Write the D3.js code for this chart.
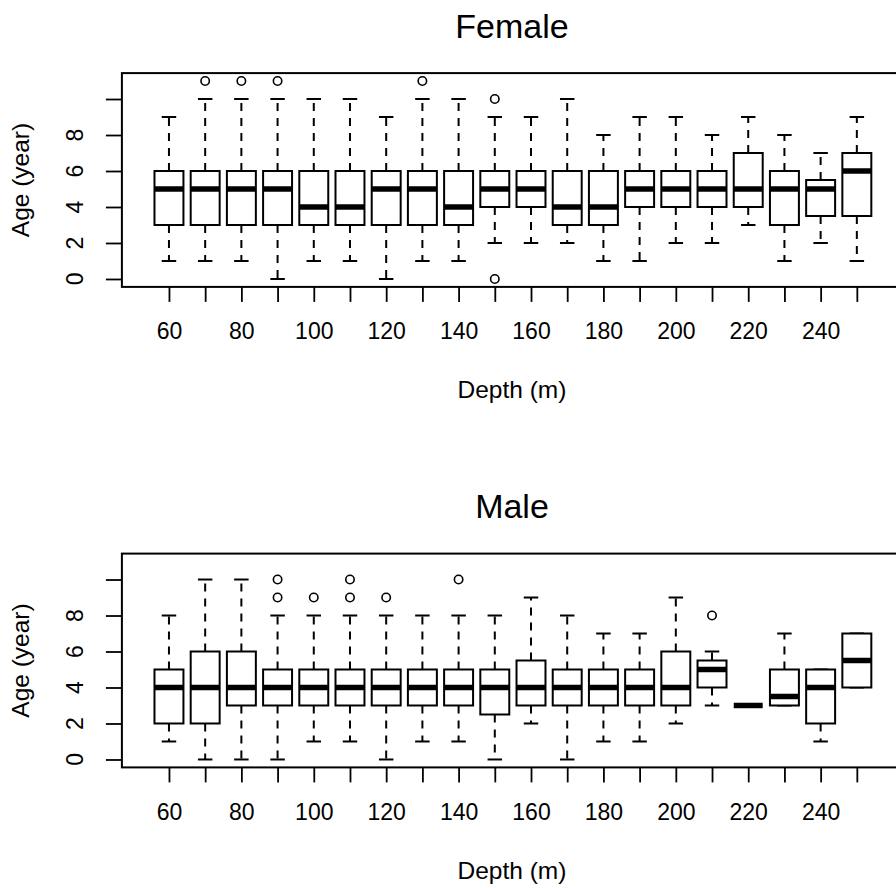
<!DOCTYPE html>
<html>
<head>
<meta charset="utf-8">
<script src="https://cdn.jsdelivr.net/npm/d3@7/dist/d3.min.js"></script>
<style>
  html, body { margin: 0; padding: 0; background: #fff; }
  svg { display: block; }
  text { font-family: "Liberation Sans", Arial, sans-serif; fill: #000; }
</style>
</head>
<body>
<script>
// ---------- data ----------
const depths = [60,70,80,90,100,110,120,130,140,150,160,170,180,190,200,210,220,230,240,250];
const xTickLabels = [60,80,100,120,140,160,180,200,220,240];
const yTicks = [0,2,4,6,8,10];
const yTickLabels = [0,2,4,6,8];

const femaleLow  = [1,1,1,0,1,1,0,1,1,2,2,2,1,1,2,2,3,1,2,1];
const femaleQ1   = [3,3,3,3,3,3,3,3,3,4,4,3,3,4,4,4,4,3,3.5,3.5];
const femaleMed  = [5,5,5,5,4,4,5,5,4,5,5,4,4,5,5,5,5,5,5,6];
const femaleQ3   = [6,6,6,6,6,6,6,6,6,6,6,6,6,6,6,6,7,6,5.5,7];
const femaleHigh = [9,10,10,10,10,10,9,10,10,9,9,10,8,9,9,8,9,8,7,9];
const femaleOut  = [[],[11],[11],[11],[],[],[],[11],[],[10,0],[],[],[],[],[],[],[],[],[],[]];

const maleLow  = [1,0,0,0,1,1,0,1,1,0,2,0,1,1,2,3,3,3,1,4];
const maleQ1   = [2,2,3,3,3,3,3,3,3,2.5,3,3,3,3,3,4,3,3,2,4];
const maleMed  = [4,4,4,4,4,4,4,4,4,4,4,4,4,4,4,5,3,3.5,4,5.5];
const maleQ3   = [5,6,6,5,5,5,5,5,5,5,5.5,5,5,5,6,5.5,3,5,5,7];
const maleHigh = [8,10,10,8,8,8,8,8,8,8,9,8,7,7,9,6,3,7,5,7];
const maleOut  = [[],[],[],[9,10],[9],[9,10],[9],[],[10],[],[],[],[],[],[],[8],[],[],[],[]];

// ---------- layout ----------
const W = 896, H = 888;
const svg = d3.select("body").append("svg").attr("width", W).attr("height", H);

const panels = [
  {title: "Female", off: 0,     low: femaleLow, q1: femaleQ1, med: femaleMed, q3: femaleQ3, high: femaleHigh, out: femaleOut},
  {title: "Male",   off: 480.5, low: maleLow,   q1: maleQ1,   med: maleMed,   q3: maleQ3,   high: maleHigh,   out: maleOut}
];

const x = d3.scaleLinear().domain([-0.3, 21.3]).range([121.9, 903.9]);
const step = x(1) - x(0);
const bw = 0.8 * step;
const sw = 0.5 * bw;

panels.forEach(p => {
  const g = svg.append("g");
  const y = d3.scaleLinear().domain([-0.44, 11.44]).range([286.9 + p.off, 73.1 + p.off]);
  const top = y(11.44), bot = y(-0.44);
  const rows = depths.map((d, i) => ({i: i + 1, d, low: p.low[i], q1: p.q1[i], med: p.med[i], q3: p.q3[i], high: p.high[i], out: p.out[i]}));

  // title
  g.append("text").attr("x", 512).attr("y", 37.7 + p.off)
    .attr("text-anchor", "middle").attr("font-size", 34).text(p.title);

  // boxes
  const b = g.selectAll("g.box").data(rows).join("g").attr("class", "box");
  const dash = "8,7";
  b.append("line").attr("x1", r => x(r.i)).attr("x2", r => x(r.i))
    .attr("y1", r => y(r.q3)).attr("y2", r => y(r.high))
    .attr("stroke", "#000").attr("stroke-width", 2).attr("stroke-dasharray", dash);
  b.append("line").attr("x1", r => x(r.i)).attr("x2", r => x(r.i))
    .attr("y1", r => y(r.q1)).attr("y2", r => y(r.low))
    .attr("stroke", "#000").attr("stroke-width", 2).attr("stroke-dasharray", dash);
  b.append("line").attr("x1", r => x(r.i) - sw / 2).attr("x2", r => x(r.i) + sw / 2)
    .attr("y1", r => y(r.high)).attr("y2", r => y(r.high))
    .attr("stroke", "#000").attr("stroke-width", 2);
  b.append("line").attr("x1", r => x(r.i) - sw / 2).attr("x2", r => x(r.i) + sw / 2)
    .attr("y1", r => y(r.low)).attr("y2", r => y(r.low))
    .attr("stroke", "#000").attr("stroke-width", 2);
  b.append("rect").attr("x", r => x(r.i) - bw / 2).attr("width", bw)
    .attr("y", r => y(r.q3)).attr("height", r => y(r.q1) - y(r.q3))
    .attr("fill", "#fff").attr("stroke", "#000").attr("stroke-width", 2);
  b.append("line").attr("x1", r => x(r.i) - bw / 2).attr("x2", r => x(r.i) + bw / 2)
    .attr("y1", r => y(r.med)).attr("y2", r => y(r.med))
    .attr("stroke", "#000").attr("stroke-width", 5.5);
  b.selectAll("circle").data(r => r.out.map(v => ({i: r.i, v}))).join("circle")
    .attr("cx", o => x(o.i)).attr("cy", o => y(o.v)).attr("r", 4.2)
    .attr("fill", "none").attr("stroke", "#000").attr("stroke-width", 1.6);

  // frame
  g.append("rect").attr("x", x(-0.3)).attr("y", top)
    .attr("width", x(21.3) - x(-0.3)).attr("height", bot - top)
    .attr("fill", "none").attr("stroke", "#000").attr("stroke-width", 2);

  // x axis
  const xa = g.append("g").attr("transform", `translate(0,${bot})`)
    .call(d3.axisBottom(x).tickValues(d3.range(1, 21)).tickSize(15).tickPadding(21)
      .tickFormat(i => xTickLabels.includes(depths[i - 1]) ? depths[i - 1] : ""));
  xa.select(".domain").remove();
  xa.selectAll(".tick line").attr("stroke", "#000").attr("stroke-width", 1.8);
  xa.selectAll(".tick text").attr("font-size", 23).attr("fill", "#000")
    .attr("font-family", "Liberation Sans, Arial, sans-serif");

  // y axis
  const ya = g.append("g").attr("transform", `translate(${x(-0.3)},0)`)
    .call(d3.axisLeft(y).tickValues(yTicks).tickSize(16).tickFormat(""));
  ya.select(".domain").remove();
  ya.selectAll(".tick line").attr("stroke", "#000").attr("stroke-width", 1.8);
  g.selectAll("text.ylab").data(yTickLabels).join("text").attr("class", "ylab")
    .attr("transform", v => `translate(83,${y(v)}) rotate(-90)`)
    .attr("text-anchor", "middle").attr("font-size", 23).text(v => v);

  // axis titles
  g.append("text").attr("x", 512).attr("y", 398 + p.off)
    .attr("text-anchor", "middle").attr("font-size", 24.5).text("Depth (m)");
  g.append("text").attr("transform", `translate(28.5,${(top + bot) / 2}) rotate(-90)`)
    .attr("text-anchor", "middle").attr("font-size", 24.5).text("Age (year)");
});
</script>
</body>
</html>
